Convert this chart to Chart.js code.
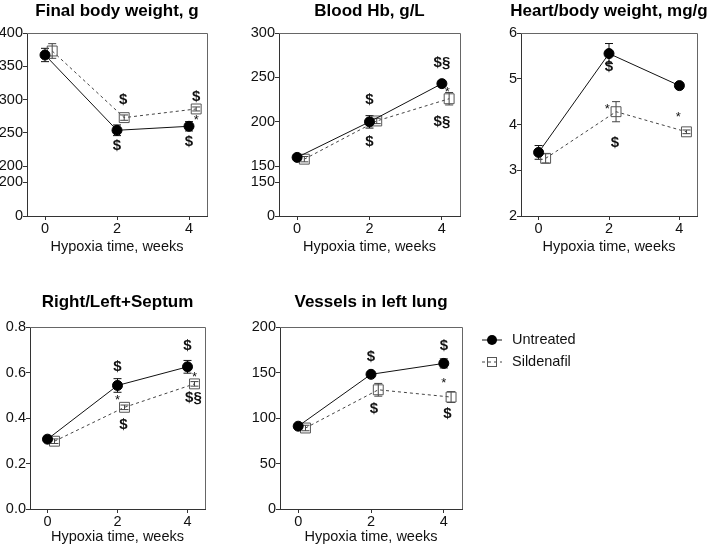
<!DOCTYPE html>
<html>
<head>
<meta charset="utf-8">
<script src="https://cdn.jsdelivr.net/npm/chart.js@4.4.1/dist/chart.umd.min.js"></script>
<style>
  body { margin: 0; background: #fff; width: 708px; height: 549px; overflow: hidden; position: relative; }
  canvas { position: absolute; }
</style>
</head>
<body>
<canvas id="c1"></canvas>
<canvas id="c2"></canvas>
<canvas id="c3"></canvas>
<canvas id="c4"></canvas>
<canvas id="c5"></canvas>
<script>
// x positions (sildenafil points are nudged right, as in the figure)
const xTicks = [0, 2, 4];
const xUntreated = [0, 2, 4];
const xSildenafil = [0.2, 2.2, 4.2];

// Final body weight, g
const bodyTicks = [200, 250, 300, 350, 400];
const bodyLowTicks = [0, 200];
const bodyUntreated = [367, 254, 260];
const bodyUntreatedErr = [10, 8, 7];
const bodySildenafil = [373, 273, 286];
const bodySildenafilErr = [11, 4, 3];
const bodyMarks = [[2.17, 300, '$'], [2.0, 231, '$'], [4.2, 304, '$'], [4.2, 274, '*'], [4.0, 237, '$']];

// Blood Hb, g/L
const hbTicks = [150, 200, 250, 300];
const hbLowTicks = [0, 150];
const hbUntreated = [160, 200, 243];
const hbUntreatedErr = [3, 7, 3];
const hbSildenafil = [158, 201, 226];
const hbSildenafilErr = [3, 3, 7];
const hbMarks = [[2.0, 225, '$'], [2.0, 177, '$'], [4.0, 266, '$§'], [4.0, 200, '$§'], [4.15, 237, '*']];

// Heart/body weight, mg/g
const heartTicks = [2, 3, 4, 5, 6];
const heartUntreated = [3.39, 5.55, 4.85];
const heartUntreatedErr = [0.15, 0.22, 0.06];
const heartSildenafil = [3.26, 4.28, 3.84];
const heartSildenafilErr = [0.1, 0.22, 0.04];
const heartMarks = [[2.0, 5.26, '$'], [1.95, 4.39, '*'], [2.17, 3.6, '$'], [3.97, 4.22, '*']];

// Right/Left+Septum
const rvTicks = [0, 0.2, 0.4, 0.6, 0.8];
const rvUntreated = [0.307, 0.543, 0.625];
const rvUntreatedErr = [0.01, 0.03, 0.028];
const rvSildenafil = [0.298, 0.447, 0.55];
const rvSildenafilErr = [0.01, 0.01, 0.01];
const rvMarks = [[2.0, 0.625, '$'], [2.0, 0.49, '*'], [2.17, 0.37, '$'], [4.0, 0.715, '$'], [4.2, 0.59, '*'], [4.17, 0.487, '$§']];

// Vessels in left lung
const vesTicks = [0, 50, 100, 150, 200];
const vesUntreated = [91, 148, 160];
const vesUntreatedErr = [3, 3, 5];
const vesSildenafil = [89, 131, 123];
const vesSildenafilErr = [3, 7, 6];
const vesMarks = [[2.0, 167, '$'], [2.08, 110, '$'], [4.0, 179, '$'], [4.0, 141, '*'], [4.1, 105, '$']];

const seriesNames = ['Untreated', 'Sildenafil'];

const FONT = '"Liberation Sans", Arial, sans-serif';
Chart.defaults.font.family = FONT;
Chart.defaults.color = '#111';

const pts = (xs, ys) => xs.map((x, i) => ({ x: x, y: ys[i] }));

const errorBars = {
  id: 'errorBars',
  beforeDatasetsDraw(chart) {
    const ctx = chart.ctx;
    chart.data.datasets.forEach(ds => {
      const ys = chart.scales[ds.yAxisID];
      const xs = chart.scales.x;
      ctx.save();
      ctx.strokeStyle = ds.borderColor;
      ctx.lineWidth = 1;
      ds.data.forEach((p, i) => {
        const e = ds.err[i];
        const px = xs.getPixelForValue(p.x);
        const top = ys.getPixelForValue(p.y + e);
        const bot = ys.getPixelForValue(p.y - e);
        ctx.beginPath();
        ctx.moveTo(px, top); ctx.lineTo(px, bot);
        ctx.moveTo(px - 4, top); ctx.lineTo(px + 4, top);
        ctx.moveTo(px - 4, bot); ctx.lineTo(px + 4, bot);
        ctx.stroke();
      });
      ctx.restore();
    });
  }
};

const frame = {
  id: 'frame',
  beforeDatasetsDraw(chart) {
    const a = chart.chartArea, ctx = chart.ctx;
    ctx.save();
    ctx.strokeStyle = '#666';
    ctx.lineWidth = 1;
    ctx.beginPath();
    ctx.moveTo(a.left, a.top + 0.5); ctx.lineTo(a.right + 0.5, a.top + 0.5);
    ctx.lineTo(a.right + 0.5, a.bottom);
    ctx.stroke();
    ctx.restore();
  }
};

// panel title centred over the plot area, not squeezed to its width
const panelTitle = {
  id: 'panelTitle',
  afterDraw(chart, args, opts) {
    const ctx = chart.ctx, a = chart.chartArea;
    ctx.save();
    ctx.font = 'bold 17px ' + FONT;
    ctx.fillStyle = '#000';
    ctx.textAlign = 'center';
    ctx.textBaseline = 'middle';
    ctx.fillText(opts.text, (a.left + a.right) / 2, opts.y);
    ctx.restore();
  }
};

const marks = {
  id: 'marks',
  afterDatasetsDraw(chart, args, opts) {
    const ctx = chart.ctx;
    ctx.save();
    ctx.textAlign = 'center';
    ctx.textBaseline = 'middle';
    ctx.fillStyle = '#111';
    (opts.items || []).forEach(m => {
      const px = chart.scales.x.getPixelForValue(m[0]);
      const py = chart.scales.y.getPixelForValue(m[1]);
      ctx.font = m[2] === '*' ? '13px ' + FONT : 'bold 15px ' + FONT;
      ctx.fillText(m[2], px, m[2] === '*' ? py + 3 : py);
    });
    ctx.restore();
  }
};

const sideLegend = {
  id: 'sideLegend',
  afterDraw(chart, args, opts) {
    if (!opts.show) return;
    const ctx = chart.ctx, a = chart.chartArea;
    chart.data.datasets.forEach((ds, i) => {
      const y = a.top + 13 + i * 22;
      const x0 = a.right + 20, x1 = a.right + 40, xm = (x0 + x1) / 2;
      ctx.save();
      ctx.strokeStyle = ds.borderColor;
      ctx.lineWidth = 1;
      ctx.setLineDash(ds.borderDash || []);
      ctx.beginPath(); ctx.moveTo(x0, y); ctx.lineTo(x1, y); ctx.stroke();
      ctx.setLineDash([]);
      if (ds.pointStyle === 'circle') {
        ctx.fillStyle = ds.pointBackgroundColor;
        ctx.beginPath(); ctx.arc(xm, y, 5, 0, Math.PI * 2); ctx.fill();
      } else {
        ctx.strokeStyle = ds.pointBorderColor;
        ctx.strokeRect(xm - 4.5, y - 4.5, 9, 9);
      }
      ctx.fillStyle = '#111';
      ctx.font = '14.5px ' + FONT;
      ctx.textBaseline = 'middle';
      ctx.fillText(ds.label, a.right + 50, y);
      ctx.restore();
    });
  }
};

function datasets(u, uErr, s, sErr) {
  return [
    {
      label: seriesNames[0], data: pts(xUntreated, u), err: uErr, yAxisID: 'y',
      borderColor: '#111', borderWidth: 1, pointStyle: 'circle', pointRadius: 5,
      pointBackgroundColor: '#000', pointBorderColor: '#000'
    },
    {
      label: seriesNames[1], data: pts(xSildenafil, s), err: sErr, yAxisID: 'y',
      borderColor: '#444', borderWidth: 1, borderDash: [3, 3], pointStyle: 'rect', pointRadius: 7,
      pointBackgroundColor: 'rgba(255,255,255,0)', pointBorderColor: '#555', pointBorderWidth: 1
    }
  ];
}

const tickFont = { size: 14.5 };

function yAxis(width, ticks, extra, decimals) {
  return Object.assign({
    type: 'linear', position: 'left',
    min: ticks[0], max: ticks[ticks.length - 1],
    afterBuildTicks: s => { s.ticks = ticks.map(v => ({ value: v })); },
    border: { color: '#333' },
    grid: { drawOnChartArea: false, tickLength: 4, tickColor: '#333' },
    ticks: {
      padding: 0, font: tickFont, autoSkip: false,
      callback: v => decimals ? v.toFixed(decimals) : String(v)
    },
    afterFit: s => { s.width = width; }
  }, extra);
}

function makePanel(p) {
  const [bx, by, bw, bh] = p.box;
  const [l, t, r, b] = p.plot;
  const el = document.getElementById(p.id);
  el.style.left = bx + 'px';
  el.style.top = by + 'px';
  el.width = bw;
  el.height = bh;
  const yw = l - bx;
  const xh = by + bh - b;
  const scales = {
    x: {
      type: 'linear', min: -0.5, max: 4.5,
      afterBuildTicks: s => { s.ticks = xTicks.map(v => ({ value: v })); },
      border: { color: '#333' },
      grid: { drawOnChartArea: false, tickLength: 4, tickColor: '#333' },
      ticks: { padding: 0, font: tickFont, maxRotation: 0, autoSkip: false },
      title: { display: true, text: 'Hypoxia time, weeks', font: tickFont, padding: { top: 0, bottom: 0 } },
      afterFit: s => { s.height = xh; }
    }
  };
  p.yScales.forEach(ys => { scales[ys.id] = yAxis(yw, ys.ticks, ys.opts, p.decimals); });
  new Chart(el, {
    type: 'line',
    data: { datasets: p.datasets },
    options: {
      responsive: false,
      animation: false,
      layout: { padding: { left: 0, right: bx + bw - r, top: t - by, bottom: 0 } },
      scales: scales,
      plugins: {
        legend: { display: false },
        tooltip: { enabled: false },
        title: { display: false },
        panelTitle: { text: p.title, y: p.titleY - by },
        marks: { items: p.marks },
        sideLegend: { show: !!p.legend }
      }
    },
    plugins: [frame, errorBars, marks, sideLegend, panelTitle]
  });
}

// broken y axes: stacked scales, listed bottom segment first
const gapAxis = { id: 'yGap', ticks: [0, 1], opts: { stack: 'left', stackWeight: 16, ticks: { display: false }, grid: { display: false } } };

makePanel({
  id: 'c1', box: [0, 0, 236, 256], plot: [27, 33, 207, 216], titleY: 11,
  title: 'Final body weight, g',
  yScales: [
    { id: 'yLow', ticks: bodyLowTicks, opts: { stack: 'left', stackWeight: 34 } },
    gapAxis,
    { id: 'y', ticks: bodyTicks, opts: { stack: 'left', stackWeight: 134 } }
  ],
  datasets: datasets(bodyUntreated, bodyUntreatedErr, bodySildenafil, bodySildenafilErr),
  marks: bodyMarks
});

makePanel({
  id: 'c2', box: [236, 0, 236, 256], plot: [279, 33, 460, 216], titleY: 11,
  title: 'Blood Hb, g/L',
  yScales: [
    { id: 'yLow', ticks: hbLowTicks, opts: { stack: 'left', stackWeight: 34 } },
    gapAxis,
    { id: 'y', ticks: hbTicks, opts: { stack: 'left', stackWeight: 134 } }
  ],
  datasets: datasets(hbUntreated, hbUntreatedErr, hbSildenafil, hbSildenafilErr),
  marks: hbMarks
});

makePanel({
  id: 'c3', box: [472, 0, 236, 256], plot: [521, 33, 697, 216], titleY: 11,
  title: 'Heart/body weight, mg/g',
  yScales: [{ id: 'y', ticks: heartTicks, opts: {} }],
  datasets: datasets(heartUntreated, heartUntreatedErr, heartSildenafil, heartSildenafilErr),
  marks: heartMarks
});

makePanel({
  id: 'c4', box: [0, 283, 236, 263], plot: [30, 327, 205, 509], titleY: 302,
  title: 'Right/Left+Septum', decimals: 1,
  yScales: [{ id: 'y', ticks: rvTicks, opts: {} }],
  datasets: datasets(rvUntreated, rvUntreatedErr, rvSildenafil, rvSildenafilErr),
  marks: rvMarks
});

makePanel({
  id: 'c5', box: [236, 283, 472, 263], plot: [280, 327, 462, 509], titleY: 302,
  title: 'Vessels in left lung',
  yScales: [{ id: 'y', ticks: vesTicks, opts: {} }],
  datasets: datasets(vesUntreated, vesUntreatedErr, vesSildenafil, vesSildenafilErr),
  marks: vesMarks,
  legend: true
});
</script>
</body>
</html>
